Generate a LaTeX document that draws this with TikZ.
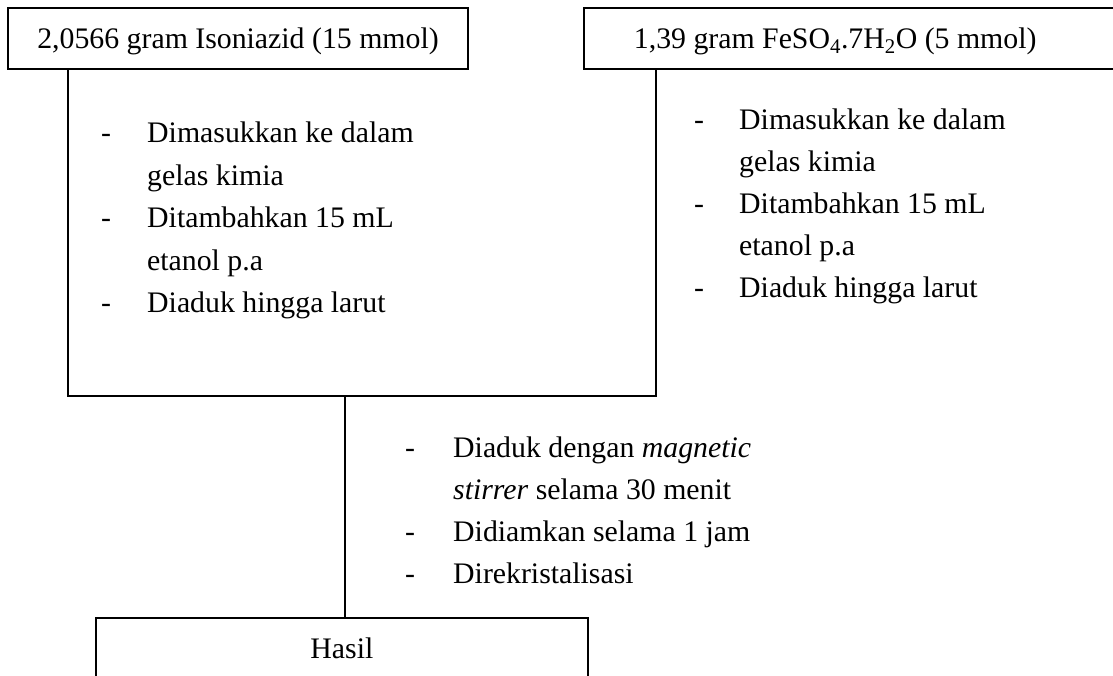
\documentclass[tikz,border=0pt]{standalone}
\usepackage{fontspec}
\setmainfont{Liberation Serif}
\begin{document}
\begin{tikzpicture}[x=1pt,y=1pt,
  every node/.style={font=\fontsize{29.8}{42.7}\selectfont, inner sep=0pt},
  boxnode/.style={draw, line width=1.8pt, rectangle, text height=22pt, text depth=3pt},
  ln/.style={anchor=base west},
  conn/.style={line width=1.8pt}]
\useasboundingbox (0,0) rectangle (1113,-675);
\clip (0,0) rectangle (1113,-675);
% boxes
\node[boxnode, minimum width=460pt, minimum height=61pt] (A) at (238,-38.5) {2,0566 gram Isoniazid (15 mmol)};
\node[boxnode, minimum height=61pt, text width=437pt, inner xsep=50pt, align=flush left, anchor=west] (B) at (583,-38.5) {1,39 gram FeSO\textsubscript{4}.7H\textsubscript{2}O (5 mmol)};
\node[boxnode, minimum width=492pt, minimum height=63pt, anchor=north west] (H) at (95,-617) {Hasil};
% connectors
\coordinate (J) at (345,-396);
\draw[conn] ([xshift=-170pt]A.south) |- (J) -| ([xshift=-196.5pt]B.south);
\draw[conn] (J) -- (H.north -| J);
% left steps
\node[ln] (ld1) at (101,-142.5) {-};
\node[ln] (l1) at (147,-142.5) {Dimasukkan ke dalam};
\node[ln] (l2) at (147,-185) {gelas kimia};
\node[ln] (ld2) at (101,-227.5) {-};
\node[ln] (l3) at (147,-227.5) {Ditambahkan 15 mL};
\node[ln] (l4) at (147,-270) {etanol p.a};
\node[ln] (ld3) at (101,-312.5) {-};
\node[ln] (l5) at (147,-312.5) {Diaduk hingga larut};
% right steps
\node[ln] (rd1) at (694,-129.5) {-};
\node[ln] (r1) at (739,-129.5) {Dimasukkan ke dalam};
\node[ln] (r2) at (739,-171.5) {gelas kimia};
\node[ln] (rd2) at (694,-213.5) {-};
\node[ln] (r3) at (739,-213.5) {Ditambahkan 15 mL};
\node[ln] (r4) at (739,-255.5) {etanol p.a};
\node[ln] (rd3) at (694,-297.5) {-};
\node[ln] (r5) at (739,-297.5) {Diaduk hingga larut};
% middle steps
\node[ln] (md1) at (405,-457.5) {-};
\node[ln] (m1) at (453,-457.5) {Diaduk dengan \textit{magnetic}};
\node[ln] (m2) at (453,-499.5) {\textit{stirrer} selama 30 menit};
\node[ln] (md2) at (405,-541.5) {-};
\node[ln] (m3) at (453,-541.5) {Didiamkan selama 1 jam};
\node[ln] (md3) at (405,-583.5) {-};
\node[ln] (m4) at (453,-583.5) {Direkristalisasi};
\end{tikzpicture}
\end{document}
